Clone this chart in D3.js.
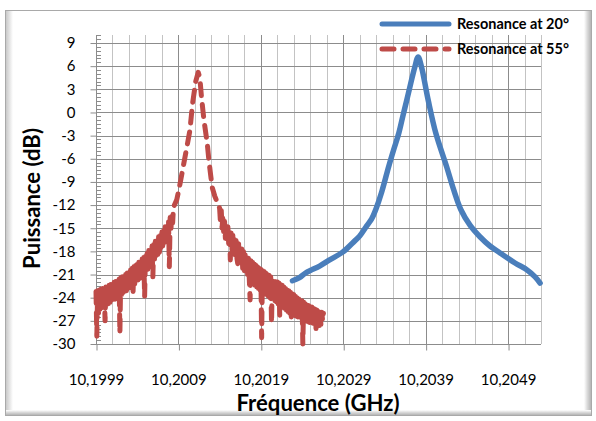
<!DOCTYPE html>
<html>
<head>
<meta charset="utf-8">
<script src="https://cdn.jsdelivr.net/npm/d3@7"></script>
<style>
  html, body { margin: 0; padding: 0; background: #ffffff; }
  svg { display: block; }
</style>
</head>
<body>
<svg id="chart" width="596" height="421"></svg>
<script>
// ---------------- DATA ----------------
const seriesNames = ["Resonance at 20°", "Resonance at 55°"];

const blueFreq = [10.202284, 10.202370, 10.202443, 10.202516, 10.202613, 10.202735, 10.202893, 10.203014,
  10.203100, 10.203185, 10.203245, 10.203294, 10.203367, 10.203452, 10.203513, 10.203574, 10.203623,
  10.203671, 10.203720, 10.203769, 10.203809, 10.203850, 10.203931, 10.204024, 10.204154, 10.204240,
  10.204328, 10.204438, 10.204559, 10.204681, 10.204803, 10.204985, 10.205131, 10.205228, 10.205289];
const blueDb = [-21.8, -21.4, -20.8, -20.4, -19.9, -19.1, -18.1, -16.9,
  -16.0, -14.7, -13.8, -12.6, -10.3, -7.0, -4.8, -2.7, -0.5,
  1.6, 3.8, 5.9, 7.2, 5.9, 1.6, -2.7, -7.0, -10.0,
  -12.6, -14.6, -16.1, -17.3, -18.2, -19.5, -20.4, -21.3, -22.1];

const redFreq = [
  10.19990, 10.19991, 10.19992, 10.19993, 10.19994, 10.19995, 10.19996, 10.19997, 10.19998, 10.19999,
  10.20000, 10.20001, 10.20002, 10.20003, 10.20004, 10.20005, 10.20006, 10.20007, 10.20008, 10.20009,
  10.20010, 10.20011, 10.20012, 10.20013, 10.20014, 10.20015, 10.20016, 10.20017, 10.20018, 10.20019,
  10.20020, 10.20021, 10.20022, 10.20023, 10.20024, 10.20025, 10.20026, 10.20027, 10.20028, 10.20029,
  10.20030, 10.20031, 10.20032, 10.20033, 10.20034, 10.20035, 10.20036, 10.20037, 10.20038, 10.20039,
  10.20040, 10.20041, 10.20042, 10.20043, 10.20044, 10.20045, 10.20046, 10.20047, 10.20048, 10.20049,
  10.20050, 10.20051, 10.20052, 10.20053, 10.20054, 10.20055, 10.20056, 10.20057, 10.20058, 10.20059,
  10.20060, 10.20061, 10.20062, 10.20063, 10.20064, 10.20065, 10.20066, 10.20067, 10.20068, 10.20069,
  10.20070, 10.20071, 10.20072, 10.20073, 10.20074, 10.20075, 10.20076, 10.20077, 10.20078, 10.20079,
  10.20080, 10.20081, 10.20082, 10.20083, 10.20084,
  10.20088, 10.20091, 10.20095, 10.20099, 10.20104, 10.20107, 10.20111, 10.20114, 10.20116, 10.20118,
  10.20121, 10.20125, 10.20127, 10.20129, 10.20131, 10.20134, 10.20137, 10.20140,
  10.20141, 10.20142, 10.20143, 10.20144, 10.20145, 10.20146, 10.20147, 10.20148, 10.20149, 10.20150,
  10.20151, 10.20152, 10.20153, 10.20154, 10.20155, 10.20156, 10.20157, 10.20158, 10.20159, 10.20160,
  10.20161, 10.20162, 10.20163, 10.20164, 10.20165, 10.20166, 10.20167, 10.20168, 10.20169, 10.20170,
  10.20171, 10.20172, 10.20173, 10.20174, 10.20175, 10.20176, 10.20177, 10.20178, 10.20179, 10.20180,
  10.20181, 10.20182, 10.20183, 10.20184, 10.20185, 10.20186, 10.20187, 10.20188, 10.20189, 10.20190,
  10.20191, 10.20192, 10.20193, 10.20194, 10.20195, 10.20196, 10.20197, 10.20198, 10.20199, 10.20200,
  10.20201, 10.20202, 10.20203, 10.20204, 10.20205, 10.20206, 10.20207, 10.20208, 10.20209, 10.20210,
  10.20211, 10.20212, 10.20213, 10.20214, 10.20215, 10.20216, 10.20217, 10.20218, 10.20219, 10.20220,
  10.20221, 10.20222, 10.20223, 10.20224, 10.20225, 10.20226, 10.20227, 10.20228, 10.20229, 10.20230,
  10.20231, 10.20232, 10.20233, 10.20234, 10.20235, 10.20236, 10.20237, 10.20238, 10.20239, 10.20240,
  10.20241, 10.20242, 10.20243, 10.20244, 10.20245, 10.20246, 10.20247, 10.20248, 10.20249, 10.20250,
  10.20251, 10.20252, 10.20253, 10.20254, 10.20255, 10.20256, 10.20257, 10.20258, 10.20259, 10.20260,
  10.20261, 10.20262, 10.20263, 10.20264, 10.20265, 10.20266];
const redDb = [
  -23.2, -29.0, -23.1, -26.0, -23.0, -25.5, -22.9, -25.3, -22.8, -25.0,
  -22.7, -27.0, -22.6, -24.9, -22.5, -24.8, -22.4, -24.6, -22.3, -24.5,
  -22.1, -24.3, -22.0, -24.2, -21.9, -24.0, -21.7, -23.8, -21.6, -28.6,
  -21.4, -23.6, -21.3, -23.4, -21.1, -23.3, -21.0, -23.1, -20.8, -22.9,
  -20.6, -22.7, -20.4, -22.6, -20.2, -23.2, -20.0, -22.2, -19.8, -21.9,
  -19.6, -21.7, -19.4, -21.5, -19.2, -21.3, -19.0, -21.1, -18.8, -23.9,
  -18.5, -20.6, -18.2, -20.3, -17.9, -20.0, -17.6, -19.7, -17.3, -21.3,
  -17.0, -19.0, -16.7, -18.7, -16.4, -18.4, -16.1, -18.1, -15.8, -17.7,
  -15.5, -17.3, -15.1, -16.9, -14.8, -16.5, -14.5, -16.0, -14.1, -20.0,
  -13.6, -15.0, -13.1, -14.3, -12.3,
  -11.3, -9.8, -7.5, -5.2, -2.3, 1.0, 4.0, 5.2, 4.5, 2.0,
  -1.0, -4.0, -6.2, -8.0, -9.7, -10.8, -11.6, -12.4,
  -14.2, -12.7, -15.0, -13.2, -15.8, -14.1, -16.3, -14.4, -16.7, -14.8,
  -17.0, -15.2, -19.1, -15.6, -17.8, -15.9, -18.2, -16.3, -18.5, -16.6,
  -18.9, -19.6, -17.0, -19.4, -17.4, -19.8, -17.7, -20.2, -18.0, -20.5,
  -18.3, -20.8, -18.6, -21.0, -18.9, -21.5, -24.3, -19.2, -21.9, -19.4,
  -22.2, -19.6, -22.4, -19.8, -22.6, -20.0, -22.8, -20.2, -23.0, -20.3,
  -29.2, -20.5, -23.2, -20.6, -23.4, -20.8, -23.6, -21.0, -23.8, -21.1,
  -24.0, -21.3, -27.3, -21.5, -24.3, -21.6, -24.5, -21.8, -24.6, -21.9,
  -24.8, -22.1, -26.5, -22.3, -25.0, -22.4, -25.2, -22.6, -25.4, -22.8,
  -25.6, -23.0, -25.8, -23.1, -26.0, -23.3, -26.5, -23.5, -26.2, -23.6,
  -26.3, -23.8, -26.4, -24.0, -26.5, -24.1, -26.6, -24.3, -26.7, -24.4,
  -30.0, -24.6, -26.9, -24.8, -27.0, -24.9, -27.1, -25.0, -27.2, -25.1,
  -27.3, -25.2, -27.3, -25.3, -27.4, -25.5, -28.0, -25.6, -27.5, -25.7,
  -27.6, -25.8, -27.6, -25.9, -27.0, -26.0];

const xTickValues = [10.1999, 10.2009, 10.2019, 10.2029, 10.2039, 10.2049];
const xTickLabels = ["10,1999", "10,2009", "10,2019", "10,2029", "10,2039", "10,2049"];
const yTickValues = [-30, -27, -24, -21, -18, -15, -12, -9, -6, -3, 0, 3, 6, 9];
const yTickLabels = ["-30", "-27", "-24", "-21", "-18", "-15", "-12", "-9", "-6", "-3", "0", "3", "6", "9"];
const xDomain = [10.1999, 10.2053];
const yDomain = [-30, 10];
const xMinorStep = 0.0002;
const yMinorStep = 0.5;
const xTitle = "Fréquence (GHz)";
const yTitle = "Puissance (dB)";

// ---------------- LAYOUT ----------------
const plot = { left: 96, right: 541, top: 35.3, bottom: 344 };
const colors = { blue: "#4A7EBB", red: "#BE4B48", major: "#8c8c8c", minor: "#c3c3c3" };
const FONT = "Lato, 'Open Sans', 'DejaVu Sans', sans-serif";
const redDash = "12,9";

const svg = d3.select("#chart");
const defs = svg.append("defs");

function lin(id, x1, y1, x2, y2, stops) {
  const g = defs.append("linearGradient").attr("id", id)
    .attr("x1", x1).attr("y1", y1).attr("x2", x2).attr("y2", y2);
  stops.forEach(s => g.append("stop").attr("offset", s[0]).attr("stop-color", s[1]));
}
lin("gLeft", 0, 0, 1, 0, [[0, "#c9c9c9"], [1, "#ffffff"]]);
lin("gRight", 0, 0, 1, 0, [[0, "#ffffff"], [0.5, "#d8d8d8"], [1, "#b5b5b5"]]);
lin("gBottom", 0, 0, 0, 1, [[0, "#ffffff"], [0.5, "#d8d8d8"], [1, "#b5b5b5"]]);

// frame
svg.append("rect").attr("x", 5.5).attr("y", 10.5).attr("width", 586).attr("height", 405)
  .attr("fill", "#ffffff").attr("stroke", "#a9a9a9").attr("stroke-width", 1);
svg.append("rect").attr("x", 6).attr("y", 11).attr("width", 7).attr("height", 404).attr("fill", "url(#gLeft)");
svg.append("rect").attr("x", 584).attr("y", 11).attr("width", 7).attr("height", 404).attr("fill", "url(#gRight)");
svg.append("rect").attr("x", 6).attr("y", 410).attr("width", 585).attr("height", 5).attr("fill", "url(#gBottom)");

// scales
const x = d3.scaleLinear().domain(xDomain).range([plot.left, plot.right]);
const y = d3.scaleLinear().domain(yDomain).range([plot.bottom, plot.top]);

const grid = svg.append("g").attr("shape-rendering", "crispEdges");
const nMinor = Math.round((xDomain[1] - xDomain[0]) / xMinorStep);
const xMinor = d3.range(0, nMinor + 1).map(i => xDomain[0] + i * xMinorStep);
grid.selectAll(".vmin").data(xMinor).join("line")
  .attr("x1", d => Math.round(x(d)) + 0.5).attr("x2", d => Math.round(x(d)) + 0.5)
  .attr("y1", plot.top).attr("y2", plot.bottom)
  .attr("stroke", colors.minor).attr("stroke-width", 1);
grid.selectAll(".vmaj").data(xTickValues).join("line")
  .attr("x1", d => Math.round(x(d)) + 0.5).attr("x2", d => Math.round(x(d)) + 0.5)
  .attr("y1", plot.top).attr("y2", plot.bottom)
  .attr("stroke", colors.major).attr("stroke-width", 1);
grid.selectAll(".hmaj").data(yTickValues).join("line")
  .attr("x1", plot.left).attr("x2", plot.right)
  .attr("y1", d => Math.round(y(d)) + 0.5).attr("y2", d => Math.round(y(d)) + 0.5)
  .attr("stroke", colors.major).attr("stroke-width", 1);

// Y axis
const yAxis = d3.axisLeft(y).tickValues(yTickValues).tickFormat((d, i) => yTickLabels[i])
  .tickSize(6).tickPadding(15);
const gy = svg.append("g").attr("transform", `translate(${plot.left + 0.5},0)`).call(yAxis);
gy.select(".domain").attr("stroke", colors.major).attr("d", `M0,${plot.top}V${plot.bottom}`);
gy.selectAll(".tick line").attr("stroke", colors.major);
gy.selectAll(".tick text").attr("font-family", FONT).attr("font-size", 15).attr("fill", "#000");
const yMinor = d3.range(yDomain[0], yDomain[1] + 0.001, yMinorStep);
svg.append("g").attr("shape-rendering", "crispEdges").selectAll("line").data(yMinor).join("line")
  .attr("x1", plot.left).attr("x2", plot.left + 5)
  .attr("y1", d => Math.round(y(d)) + 0.5).attr("y2", d => Math.round(y(d)) + 0.5)
  .attr("stroke", colors.major);

// X axis
const xAxis = d3.axisBottom(x).tickValues(xTickValues).tickFormat((d, i) => xTickLabels[i])
  .tickSize(6).tickPadding(24);
const gx = svg.append("g").attr("transform", `translate(0,${Math.round(plot.bottom) + 0.5})`).call(xAxis);
gx.select(".domain").attr("stroke", colors.major).attr("d", `M${plot.left},0H${plot.right}`);
gx.selectAll(".tick line").attr("stroke", colors.major).attr("transform", "translate(0.5,0)");
gx.selectAll(".tick text").attr("font-family", FONT).attr("font-size", 15).attr("fill", "#000");

// series
const blueData = blueFreq.map((f, i) => [f, blueDb[i]]);
const redData = redFreq.map((f, i) => [f, redDb[i]]);
const blueLine = d3.line().x(d => x(d[0])).y(d => y(d[1])).curve(d3.curveCatmullRom.alpha(0.5));
const redLine = d3.line().x(d => x(d[0])).y(d => y(d[1])).curve(d3.curveLinear);

svg.append("path").datum(blueData).attr("d", blueLine)
  .attr("fill", "none").attr("stroke", colors.blue).attr("stroke-width", 5.5)
  .attr("stroke-linejoin", "round").attr("stroke-linecap", "round");
svg.append("path").datum(redData).attr("d", redLine)
  .attr("fill", "none").attr("stroke", colors.red).attr("stroke-width", 5)
  .attr("stroke-linejoin", "round").attr("stroke-linecap", "round")
  .attr("stroke-dasharray", redDash);

// titles
function fit(sel, target) {
  const w = sel.node().getComputedTextLength();
  const fs = parseFloat(sel.attr("font-size"));
  sel.attr("font-size", (fs * target / w).toFixed(2));
}
const xt = svg.append("text").attr("x", 318).attr("y", 411).attr("text-anchor", "middle")
  .attr("font-family", FONT).attr("font-weight", "bold").attr("font-size", 18).text(xTitle);
fit(xt, 163);
const yt = svg.append("text").attr("transform", "translate(40,198.5) rotate(-90)").attr("text-anchor", "middle")
  .attr("font-family", FONT).attr("font-weight", "bold").attr("font-size", 18).text(yTitle);
fit(yt, 141);

// legend
const legend = svg.append("g");
const legendItems = [
  { name: seriesNames[0], color: colors.blue, dash: null, y: 24 },
  { name: seriesNames[1], color: colors.red, dash: redDash, y: 49 }
];
legendItems.forEach(it => {
  legend.append("line").attr("x1", 382).attr("x2", 449).attr("y1", it.y).attr("y2", it.y)
    .attr("stroke", it.color).attr("stroke-width", 5).attr("stroke-linecap", "round")
    .attr("stroke-dasharray", it.dash);
  const t = legend.append("text").attr("x", 457).attr("y", it.y + 5)
    .attr("font-family", FONT).attr("font-weight", "bold").attr("font-size", 13).attr("fill", "#000")
    .text(it.name);
  fit(t, 112);
});
</script>
</body>
</html>
